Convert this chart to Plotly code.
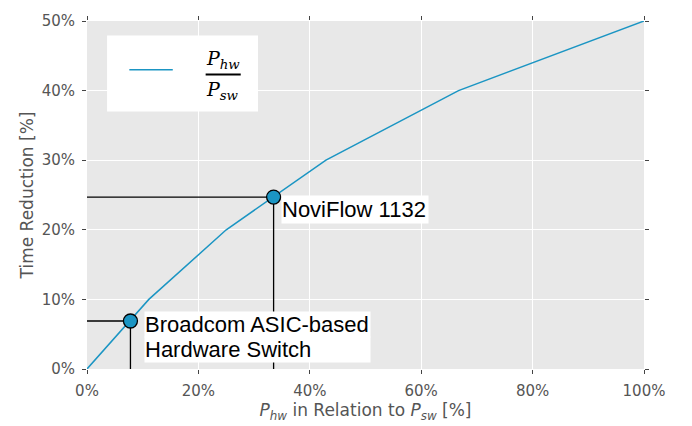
import plotly.graph_objects as go

# Curve: P_hw / P_sw vs time reduction
x_ratio = [0, 11.1, 25.0, 42.9, 66.7, 100.0]
y_reduction = [0, 10, 20, 30, 40, 50]

# Highlighted devices
dev_names = ["NoviFlow 1132", "Broadcom ASIC-based", "Hardware Switch"]
dev_x = [33.5, 7.8]
dev_y = [24.7, 6.9]

x_ticks = [0, 20, 40, 60, 80, 100]
y_ticks = [0, 10, 20, 30, 40, 50]

line_color = "#1b95c3"
gray = "#555555"

fig = go.Figure()

# guide lines for devices
for xv, yv in zip(dev_x, dev_y):
    fig.add_trace(go.Scatter(x=[0, xv, xv], y=[yv, yv, 0], mode="lines",
                             line=dict(color="black", width=1.3),
                             hoverinfo="skip", showlegend=False, cliponaxis=False))

fig.add_trace(go.Scatter(x=x_ratio, y=y_reduction, mode="lines",
                         line=dict(color=line_color, width=1.5),
                         showlegend=False, cliponaxis=False))

fig.add_trace(go.Scatter(x=dev_x, y=dev_y, mode="markers",
                         marker=dict(size=14, color=line_color,
                                     line=dict(color="black", width=1.3)),
                         showlegend=False, cliponaxis=False))

# device labels
label_font = dict(family="Liberation Sans, Arial, sans-serif", size=22, color="black")
fig.add_annotation(x=dev_x[0], y=dev_y[0], text=dev_names[0], xref="x", yref="y",
                   showarrow=False, xanchor="left", yanchor="top", xshift=7, yshift=2,
                   width=146, height=27, bgcolor="white", font=label_font,
                   borderpad=0, align="left", valign="middle")
fig.add_annotation(x=dev_x[1], y=dev_y[1], text=dev_names[1], xref="x", yref="y",
                   showarrow=False, xanchor="left", yanchor="top", xshift=14, yshift=10,
                   width=225, height=25, bgcolor="white", font=label_font,
                   borderpad=0, align="left", valign="middle")
fig.add_annotation(x=dev_x[1], y=dev_y[1], text=dev_names[2], xref="x", yref="y",
                   showarrow=False, xanchor="left", yanchor="top", xshift=14, yshift=-15,
                   width=225, height=25, bgcolor="white", font=label_font,
                   borderpad=0, align="left", valign="middle")

# manual legend
fig.add_shape(type="rect", xref="x", yref="y", x0=3.6, x1=30.7, y0=37.0, y1=47.9,
              fillcolor="white", line=dict(width=0), layer="above")
fig.add_shape(type="line", xref="x", yref="y", x0=7.6, x1=15.4, y0=43.0, y1=43.0,
              line=dict(color=line_color, width=1.5), layer="above")
fig.add_shape(type="line", xref="x", yref="y", x0=21.3, x1=27.6, y0=42.3, y1=42.3,
              line=dict(color="black", width=2), layer="above")
math_font = dict(family="DejaVu Serif, serif", size=19, color="black")
fig.add_annotation(x=24.4, y=42.3, xref="x", yref="y", text="<i>P</i><sub><i>hw</i></sub>",
                   showarrow=False, yanchor="bottom", xanchor="center", yshift=1, font=math_font)
fig.add_annotation(x=24.4, y=42.3, xref="x", yref="y", text="<i>P</i><sub><i>sw</i></sub>",
                   showarrow=False, yanchor="top", xanchor="center", yshift=-1, font=math_font)

axis_common = dict(
    showgrid=True, gridcolor="white", gridwidth=1.3, zeroline=False,
    showline=False, ticks="outside", ticklen=4, tickwidth=1, tickcolor="#444444",
    mirror="ticks", tickfont=dict(family="DejaVu Sans, sans-serif", size=15, color=gray),
)

fig.update_layout(
    width=692, height=426,
    margin=dict(l=87, r=48, t=15, b=57),
    paper_bgcolor="white", plot_bgcolor="#e8e8e8",
    xaxis=dict(range=[0, 100], tickvals=x_ticks, ticktext=[f"{v}%" for v in x_ticks],
               ticklabelstandoff=4,
               title=dict(text="<i>P</i><sub><i>hw</i></sub> in Relation to <i>P</i><sub><i>sw</i></sub> [%]",
                          font=dict(family="DejaVu Sans, sans-serif", size=17, color=gray),
                          standoff=2),
               **axis_common),
    yaxis=dict(range=[0, 50], tickvals=y_ticks, ticktext=[f"{v}%" for v in y_ticks],
               ticklabelstandoff=4,
               title=dict(text="Time Reduction [%]",
                          font=dict(family="DejaVu Sans, sans-serif", size=17, color=gray),
                          standoff=3),
               **axis_common),
)

fig.write_html("out.html")
